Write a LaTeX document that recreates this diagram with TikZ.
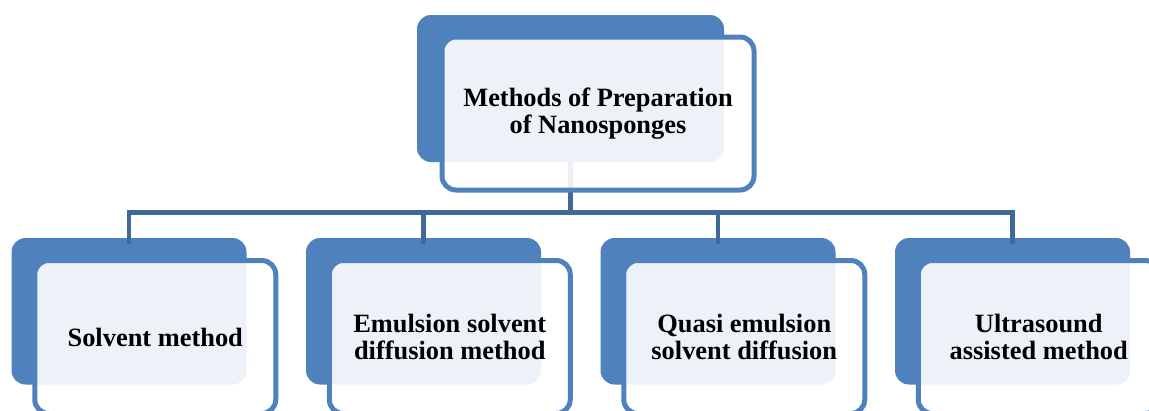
\documentclass[tikz,border=0pt]{standalone}
\usepackage{fontspec}
\setmainfont{Liberation Serif}
\definecolor{accent}{RGB}{79,129,189}
\definecolor{linkblue}{RGB}{64,104,152}
\begin{document}
\begin{tikzpicture}[x=1pt,y=-1pt,
  backcard/.style={rectangle,fill=accent,draw=none,rounded corners=14pt,
    inner sep=0pt,outer sep=0pt},
  topcard/.style={rectangle,draw=accent,line width=5pt,fill=white,
    fill opacity=0.9,text opacity=1,draw opacity=1,rounded corners=14pt,
    inner sep=0pt,outer sep=0pt,align=center,
    font=\bfseries\fontsize{26.4}{27}\selectfont},
  conn/.style={draw=linkblue,line width=4.5pt,line join=miter}]
\useasboundingbox (0,0) rectangle (1149,410);

% root: coloured back card
\node[backcard,minimum width=307pt,minimum height=147pt] (rootback) at (570.5,88.5) {};

% child back cards
\foreach \i in {0,1,2,3}{
  \node[backcard,minimum width=235pt,minimum height=146.5pt] (back\i)
    at ({129+294.5*\i},311.25) {};
}

% junction points and drop ends
\coordinate (hub) at (rootback.south |- 0,212.5);
\foreach \i in {0,1,2,3}{
  \coordinate (j\i) at (back\i.north |- 0,212.5);
  \coordinate (t\i) at ([yshift=-6pt]back\i.north);
}

% connectors, drawn before the front cards so they pass behind them
\draw[conn] (rootback.south) -- (hub);
\draw[conn] (t0) -- (j0) -- (j3) -- (t3);
\draw[conn] (j1) -- (t1);
\draw[conn] (j2) -- (t2);

% front cards with labels
\node[topcard,minimum width=312pt,minimum height=153pt] (root) at (598,113.5)
  {Methods of Preparation\\of Nanosponges};
\node[topcard,minimum width=241pt,minimum height=153pt] (c0) at (155.25,337)
  {Solvent method};
\node[topcard,minimum width=241pt,minimum height=153pt] (c1) at (449.75,337)
  {Emulsion solvent\\diffusion method};
\node[topcard,minimum width=241pt,minimum height=153pt] (c2) at (744.25,337)
  {Quasi emulsion\\solvent diffusion};
\node[topcard,minimum width=241pt,minimum height=153pt] (c3) at (1038.75,337)
  {Ultrasound\\assisted method};
\end{tikzpicture}
\end{document}
